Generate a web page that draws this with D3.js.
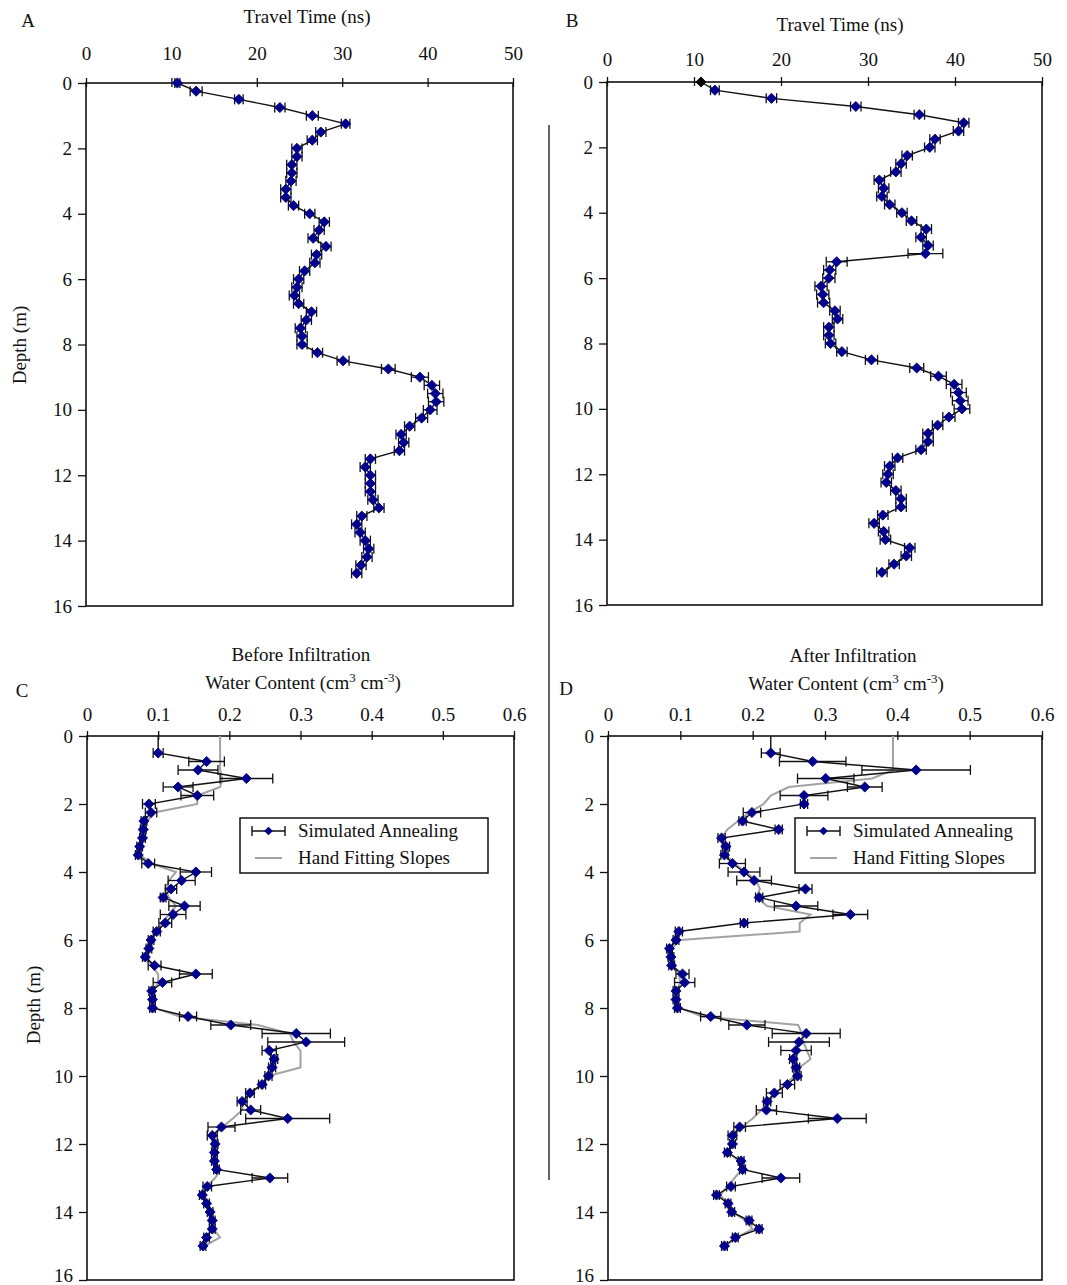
<!DOCTYPE html>
<html><head><meta charset="utf-8">
<script src="https://cdn.jsdelivr.net/npm/d3@7/dist/d3.min.js"></script>
<style>body{margin:0;background:#fff}svg{display:block}</style>
</head><body>
<svg id="c" width="1067" height="1285"></svg>
<script>
// ---------- DATA ----------
const ttDepth = [0,0.25,0.5,0.75,1,1.25,1.5,1.75,2,2.25,2.5,2.75,3,3.25,3.5,3.75,4,4.25,4.5,4.75,5,5.25,5.5,5.75,6,6.25,6.5,6.75,7,7.25,7.5,7.75,8,8.25,8.5,8.75,9,9.25,9.5,9.75,10,10.25,10.5,10.75,11,11.25,11.5,11.75,12,12.25,12.5,12.75,13,13.25,13.5,13.75,14,14.25,14.5,14.75,15];
const travelA = [10.7,12.9,17.9,22.7,26.5,30.4,27.5,26.5,24.7,24.7,24.1,24.1,24.0,23.4,23.4,24.3,26.2,27.9,27.3,26.6,28.1,27.0,26.8,25.6,24.9,24.7,24.4,24.9,26.4,25.8,25.1,25.3,25.3,27.1,30.1,35.4,39.1,40.5,40.9,41.0,40.3,39.3,37.9,36.9,37.2,36.7,33.3,32.7,33.3,33.3,33.3,33.6,34.3,32.3,31.7,32.1,32.7,33.1,32.9,32.2,31.7];
const errA = [0.3,0.7,0.5,0.6,0.7,0.5,0.6,0.6,0.6,0.6, 0.6,0.6,0.6,0.6,0.6,0.6,0.6,0.6,0.6,0.6, 0.6,0.6,0.6,0.6,0.6,0.6,0.6,0.6,0.6,0.6, 0.6,0.6,0.6,0.6,0.7,0.8,1.0,0.9,0.9,0.9, 0.8,0.7,0.6,0.6,0.6,0.6,0.6,0.6,0.6,0.6, 0.6,0.6,0.6,0.6,0.6,0.6,0.6,0.6,0.6,0.6, 0.6];
const travelB = [10.8,12.4,18.9,28.6,35.9,41.0,40.4,37.7,37.1,34.5,33.8,33.2,31.3,31.8,31.6,32.5,33.9,35.0,36.7,36.1,36.9,36.6,26.4,25.6,25.5,24.6,24.8,24.9,26.2,26.5,25.5,25.5,25.7,27.0,30.4,35.6,38.1,39.9,40.4,40.6,40.8,39.3,38.0,36.9,36.9,36.1,33.4,32.5,32.3,32.1,33.2,33.8,33.8,31.7,30.7,31.8,32.0,34.8,34.4,33.0,31.6];
const errB = [null,0.5,0.6,0.6,0.6,0.6,0.6,0.6,0.6,0.6, 0.6,0.6,0.6,0.6,0.6,0.6,0.6,0.6,0.6,0.6, 0.6,2.0,1.2,0.7,0.7,0.7,0.7,0.7,0.6,0.6, 0.6,0.6,0.6,0.6,0.7,0.8,0.9,0.9,0.9,0.9, 0.9,0.7,0.6,0.6,0.6,0.6,0.6,0.6,0.6,0.6, 0.6,0.6,0.6,0.6,0.6,0.6,0.6,0.6,0.6,0.6, 0.6];

const wcDepth = [0,0.5,0.75,1,1.25,1.5,1.75,2,2.25,2.5,2.75,3,3.25,3.5,3.75,4,4.25,4.5,4.75,5,5.25,5.5,5.75,6,6.25,6.5,6.75,7,7.25,7.5,7.75,8,8.25,8.5,8.75,9,9.25,9.5,9.75,10,10.25,10.5,10.75,11,11.25,11.5,11.75,12,12.25,12.5,12.75,13,13.25,13.5,13.75,14,14.25,14.5,14.75,15];
const wcBefore = [0.100,0.100,0.168,0.156,0.224,0.128,0.155,0.087,0.090,0.080,0.079,0.078,0.074,0.072,0.086,0.153,0.133,0.118,0.107,0.137,0.121,0.110,0.098,0.090,0.087,0.082,0.095,0.153,0.106,0.091,0.092,0.092,0.142,0.202,0.294,0.308,0.256,0.263,0.260,0.255,0.246,0.229,0.218,0.230,0.282,0.189,0.176,0.180,0.179,0.179,0.182,0.257,0.169,0.162,0.168,0.173,0.176,0.176,0.168,0.163];
const errBefore = [null,0.007,0.025,0.028,0.037,0.021,0.023,0.009,0.008,0.004,0.004,0.004,0.004,0.004,0.009,0.022,0.019,0.008,0.004,0.022,0.018,0.009,0.005,0.004,0.004,0.004,0.009,0.023,0.013,0.004,0.004,0.004,0.012,0.028,0.048,0.054,0.010,0.005,0.005,0.005,0.005,0.006,0.007,0.014,0.059,0.019,0.007,0.004,0.004,0.004,0.004,0.025,0.006,0.004,0.004,0.004,0.004,0.004,0.004,0.004];
const wcAfter = [0.225,0.225,0.283,0.426,0.301,0.355,0.271,0.271,0.199,0.186,0.236,0.157,0.163,0.161,0.172,0.188,0.202,0.273,0.209,0.260,0.335,0.188,0.098,0.094,0.085,0.087,0.088,0.103,0.106,0.094,0.094,0.096,0.142,0.192,0.274,0.264,0.260,0.256,0.260,0.262,0.248,0.230,0.220,0.219,0.317,0.182,0.172,0.172,0.165,0.184,0.186,0.239,0.170,0.150,0.166,0.171,0.195,0.209,0.176,0.161];
const errAfter = [null,0.013,0.046,0.075,0.039,0.024,0.033,0.005,0.012,0.005,0.005,0.005,0.005,0.005,0.018,0.022,0.024,0.009,0.005,0.030,0.024,0.005,0.005,0.004,0.004,0.004,0.004,0.009,0.014,0.004,0.004,0.004,0.014,0.025,0.047,0.042,0.021,0.005,0.005,0.005,0.010,0.011,0.005,0.014,0.040,0.008,0.006,0.004,0.004,0.004,0.004,0.026,0.006,0.004,0.004,0.004,0.004,0.004,0.004,0.004];

const handBefore = [0.187,0.187,0.187,0.187,0.187,0.190,0.187,0.155,0.155,0.095,0.085,0.080,0.078,0.075,0.075,0.090,0.125,0.115,0.110,0.115,0.125,0.115,0.105,0.097,0.090,0.087,0.085,0.090,0.100,0.100,0.092,0.092,0.095,0.130,0.240,0.285,0.290,0.300,0.300,0.300,0.255,0.245,0.230,0.220,0.218,0.205,0.190,0.178,0.180,0.180,0.180,0.188,0.180,0.168,0.163,0.168,0.172,0.176,0.178,0.187,0.165];
const handAfter = [0.394,0.394,0.394,0.394,0.394,0.365,0.250,0.225,0.215,0.195,0.180,0.165,0.157,0.160,0.163,0.175,0.190,0.205,0.210,0.205,0.220,0.280,0.265,0.265,0.100,0.088,0.088,0.090,0.098,0.100,0.095,0.095,0.100,0.130,0.263,0.268,0.270,0.275,0.280,0.265,0.258,0.245,0.232,0.222,0.212,0.200,0.185,0.172,0.170,0.168,0.180,0.185,0.175,0.165,0.155,0.165,0.172,0.190,0.200,0.178,0.162];

const travelTicks = [0,10,20,30,40,50];
const wcTicks = [0,0.1,0.2,0.3,0.4,0.5,0.6];
const depthTicks = [0,2,4,6,8,10,12,14,16];
const legendLabels = ["Simulated Annealing","Hand Fitting Slopes"];

// ---------- DRAWING ----------
const FONT = "'Liberation Serif','Times New Roman',serif";
const NAVY = "#00008b";
const svg = d3.select("#c");
svg.append("rect").attr("width",1067).attr("height",1285).attr("fill","#fff");

function txt(x, y, s, opts = {}) {
  return svg.append("text").attr("x", x).attr("y", y).text(s)
    .attr("font-family", FONT).attr("font-size", opts.size || 19)
    .attr("text-anchor", opts.anchor || "middle").attr("fill", "#111");
}

function panel(cfg) {
  const x = d3.scaleLinear().domain(cfg.xDomain).range([cfg.left, cfg.right]);
  const y = d3.scaleLinear().domain([0, 16]).range([cfg.top, cfg.bottom]);
  const g = svg.append("g");

  const ax = g.append("g").attr("transform", `translate(0,${cfg.top})`)
    .call(d3.axisTop(x).tickValues(cfg.xTicks).tickFormat(cfg.xFmt).tickSizeInner(5).tickSizeOuter(0).tickPadding(cfg.xPad));
  ax.select(".domain").remove();
  ax.selectAll(".tick line").attr("y1", 4).attr("y2", -5).attr("stroke", "#111").attr("stroke-width", 1.3);
  ax.selectAll(".tick text").attr("font-family", FONT).attr("font-size", 19).attr("fill", "#111");

  const ay = g.append("g").attr("transform", `translate(${cfg.left},0)`)
    .call(d3.axisLeft(y).tickValues(depthTicks).tickFormat(d3.format("d")).tickSizeInner(8).tickSizeOuter(0).tickPadding(6));
  ay.select(".domain").remove();
  ay.selectAll(".tick line").attr("stroke", "#111").attr("stroke-width", 1.3);
  ay.selectAll(".tick text").attr("font-family", FONT).attr("font-size", 19).attr("fill", "#111");
  if (cfg.lastTickDy != null) ay.selectAll(".tick text").filter(d => d === 16).attr("dy", cfg.lastTickDy);

  g.append("rect").attr("x", cfg.left).attr("y", cfg.top)
    .attr("width", cfg.right - cfg.left).attr("height", cfg.bottom - cfg.top)
    .attr("fill", "none").attr("stroke", "#111").attr("stroke-width", 1.6);

  const line = d3.line().x(d => x(d.v)).y(d => y(d.d));

  if (cfg.hand) {
    const hd = cfg.hand.depth.map((d, i) => ({ d, v: cfg.hand.val[i] }));
    g.append("path").datum(hd).attr("d", line).attr("fill", "none")
      .attr("stroke", "#a3a3a3").attr("stroke-width", 2);
  }

  const sd = cfg.sa.depth.map((d, i) => ({ d, v: cfg.sa.val[i], e: cfg.sa.err[i] }));
  const eb = g.append("g").attr("stroke", "#111").attr("stroke-width", 1.3);
  sd.filter(p => p.e != null).forEach(p => {
    const yy = y(p.d), xl = x(p.v - p.e), xr = x(p.v + p.e);
    eb.append("line").attr("x1", xl).attr("x2", xr).attr("y1", yy).attr("y2", yy);
    eb.append("line").attr("x1", xl).attr("x2", xl).attr("y1", yy - 5).attr("y2", yy + 5);
    eb.append("line").attr("x1", xr).attr("x2", xr).attr("y1", yy - 5).attr("y2", yy + 5);
  });
  g.append("path").datum(sd).attr("d", line).attr("fill", "none")
    .attr("stroke", "#111").attr("stroke-width", 1.4);
  const sym = d3.symbol(d3.symbolSquare, 52);
  g.selectAll(".mk").data(sd.filter(p => p.e != null || cfg.sa.surface === "black"))
    .join("path").attr("class", "mk").attr("d", sym)
    .attr("transform", p => `translate(${x(p.v)},${y(p.d)}) rotate(45)`)
    .attr("fill", p => p.e == null ? "#000" : NAVY)
    .attr("stroke", p => p.e == null ? "#000" : NAVY).attr("stroke-width", 0.8);

  if (cfg.legend) {
    const L = cfg.legend;
    const lg = g.append("g");
    lg.append("rect").attr("x", L.x).attr("y", L.y).attr("width", L.w).attr("height", L.h)
      .attr("fill", "#fff").attr("stroke", "#111").attr("stroke-width", 1.5);
    const r1 = L.y + 13, r2 = L.y + 40;
    const sx0 = L.x + 12, sx1 = L.x + 45, sxm = (sx0 + sx1) / 2;
    lg.append("line").attr("x1", sx0).attr("x2", sx1).attr("y1", r1).attr("y2", r1).attr("stroke", "#111").attr("stroke-width", 1.4);
    [sx0, sx1].forEach(xx => lg.append("line").attr("x1", xx).attr("x2", xx).attr("y1", r1 - 5).attr("y2", r1 + 5).attr("stroke", "#111").attr("stroke-width", 1.4));
    lg.append("path").attr("d", d3.symbol(d3.symbolSquare, 38)).attr("transform", `translate(${sxm},${r1}) rotate(45)`).attr("fill", NAVY);
    lg.append("line").attr("x1", sx0 + 3).attr("x2", sx1 - 3).attr("y1", r2).attr("y2", r2).attr("stroke", "#a3a3a3").attr("stroke-width", 2);
    lg.append("text").attr("x", L.x + 58).attr("y", r1 + 6).text(legendLabels[0]).attr("font-family", FONT).attr("font-size", 19).attr("fill", "#111");
    lg.append("text").attr("x", L.x + 58).attr("y", r2 + 6).text(legendLabels[1]).attr("font-family", FONT).attr("font-size", 19).attr("fill", "#111");
  }
}

const fmtWC = d => d === 0 ? "0" : d3.format(".1f")(d);

panel({ left: 86, right: 513, top: 83, bottom: 606, xDomain: [0, 50], xTicks: travelTicks, xFmt: d3.format("d"), xPad: 18,
  sa: { depth: ttDepth, val: travelA, err: errA, surface: "none" } });
panel({ left: 607, right: 1042, top: 82, bottom: 605, xDomain: [0, 50], xTicks: travelTicks, xFmt: d3.format("d"), xPad: 11,
  sa: { depth: ttDepth, val: travelB, err: errB, surface: "black" } });
panel({ left: 87, right: 514, top: 736, bottom: 1280, xDomain: [0, 0.6], xTicks: wcTicks, xFmt: fmtWC, xPad: 10, lastTickDy: "0.1em",
  sa: { depth: wcDepth, val: wcBefore, err: errBefore, surface: "none" },
  hand: { depth: ttDepth, val: handBefore },
  legend: { x: 240, y: 818, w: 248, h: 55 } });
panel({ left: 608, right: 1042, top: 736, bottom: 1280, xDomain: [0, 0.6], xTicks: wcTicks, xFmt: fmtWC, xPad: 10, lastTickDy: "0.1em",
  sa: { depth: wcDepth, val: wcAfter, err: errAfter, surface: "none" },
  hand: { depth: ttDepth, val: handAfter },
  legend: { x: 795, y: 818, w: 240, h: 55 } });

// Titles and labels
txt(28, 27, "A"); txt(572, 27, "B"); txt(22, 697, "C"); txt(566, 695, "D");
txt(307, 23, "Travel Time (ns)");
txt(840, 31, "Travel Time (ns)");
txt(301, 661, "Before Infiltration");
txt(853, 662, "After Infiltration");

function wcTitle(cx, cy) {
  const t = txt(cx, cy, "");
  t.append("tspan").text("Water Content (cm");
  t.append("tspan").text("3").attr("font-size", 13).attr("dy", -7);
  t.append("tspan").text(" cm").attr("dy", 7);
  t.append("tspan").text("-3").attr("font-size", 13).attr("dy", -7);
  t.append("tspan").text(")").attr("dy", 7);
}
wcTitle(303, 689);
wcTitle(846, 690);

function depthLabel(cx, cy) {
  svg.append("text").attr("transform", `translate(${cx},${cy}) rotate(-90)`)
    .attr("text-anchor", "middle").attr("font-family", FONT).attr("font-size", 19)
    .attr("fill", "#111").attr("dy", "0.35em").text("Depth (m)");
}
depthLabel(19, 345);
depthLabel(33, 1005);

// separator
svg.append("line").attr("x1", 549).attr("x2", 549).attr("y1", 125).attr("y2", 1180)
  .attr("stroke", "#111").attr("stroke-width", 1.3);
</script>
</body></html>
